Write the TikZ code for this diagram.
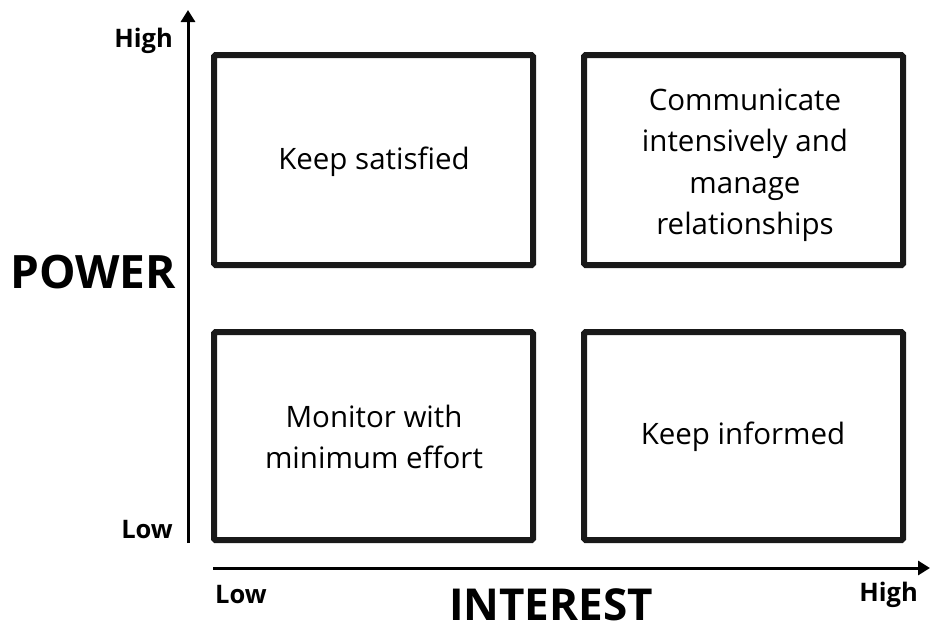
\documentclass[tikz,border=0pt]{standalone}
\usepackage{fontspec}
\setmainfont{Open Sans}
\usetikzlibrary{arrows.meta}
\begin{document}
\begin{tikzpicture}[x=1pt,y=-1pt,
  quad/.style={draw=black!90, line width=6pt, rounded corners=1.5pt},
  cell/.style={align=center, font=\fontsize{29.5}{41.5}\selectfont, inner sep=0pt},
  tick/.style={font=\fontsize{25.5}{30}\selectfont\bfseries, inner sep=0pt},
  axlabel/.style={font=\fontsize{46}{52}\selectfont\bfseries, inner sep=0pt},
  axis/.style={line width=3pt, -{Triangle[length=12pt,width=14pt]}}]
\useasboundingbox (0,0) rectangle (932,630);
% quadrants
\draw[quad] (214,55) rectangle (533,265);
\draw[quad] (584,55) rectangle (903,265);
\draw[quad] (214,332) rectangle (533,540);
\draw[quad] (584,332) rectangle (903,540);
\node[cell] (ks) at (374,162) {Keep satisfied};
\node[cell] (cm) at (745,165) {Communicate\\intensively and\\manage\\relationships};
\node[cell] (mo) at (374,437) {Monitor with\\minimum effort};
\node[cell] (ki) at (743,437) {Keep informed};
% axes
\coordinate (yo) at (188,543);
\coordinate (yt) at (188,10);
\coordinate (xo) at (213,568);
\coordinate (xt) at (930,568);
\draw[axis] (yo) -- (yt);
\draw[axis] (xo) -- (xt);
% axis labels
\node[tick, anchor=east] (yh) at (173,41) {High};
\node[tick, anchor=east] (yl) at (173,530) {Low};
\node[tick, anchor=west] (xl) at (215,595) {Low};
\node[tick, anchor=east] (xh) at (918,595) {High};
\node[axlabel, anchor=west] (pw) at (10,272) {POWER};
\node[axlabel, font=\fontsize{44}{50}\selectfont\bfseries] (in) at (551,605) {INTEREST};
\end{tikzpicture}
\end{document}
